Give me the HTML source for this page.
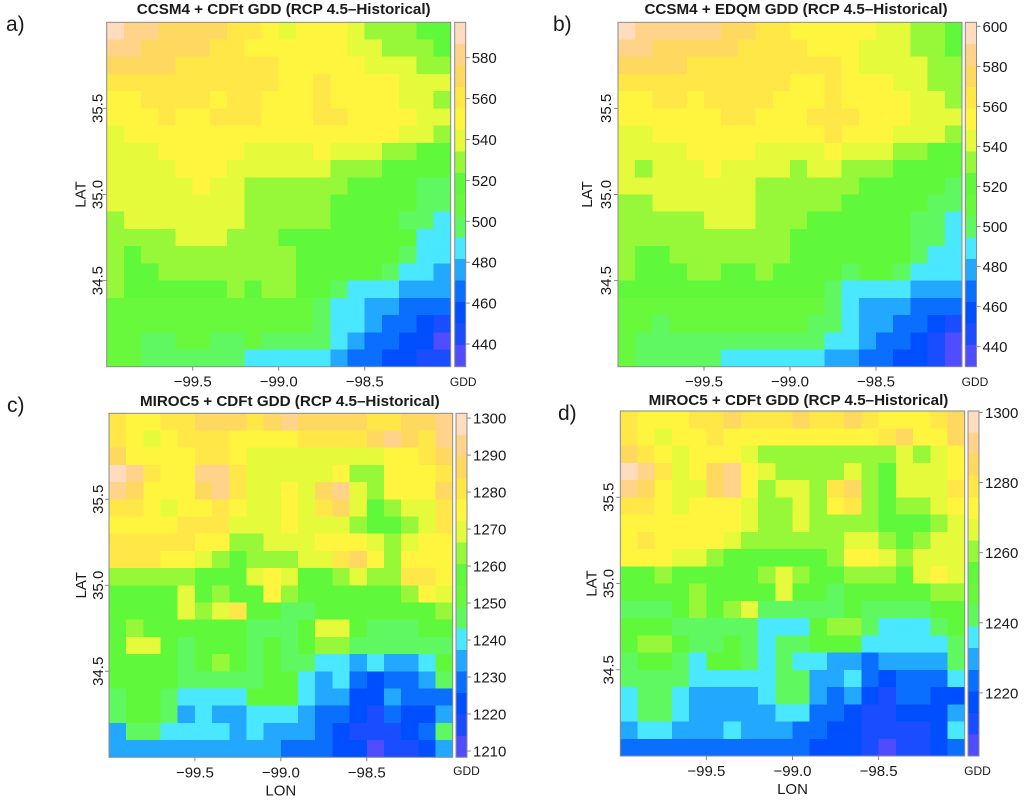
<!DOCTYPE html>
<html lang="en">
<head>
<meta charset="utf-8">
<title>GDD change maps</title>
<style>
html,body{margin:0;padding:0;background:#fff;width:1024px;height:802px;overflow:hidden}
svg{display:block;font-family:"Liberation Sans",Arial,sans-serif;fill:#111}
</style>
</head>
<body>
<svg id="chart" width="1024" height="802" viewBox="0 0 1024 802" xmlns="http://www.w3.org/2000/svg"></svg>
<script>
const lonTicks = [-99.5, -99.0, -98.5];
const latTicks = [34.5, 35.0, 35.5];
const palette = ['#4f4dff','#1a4dff','#004fff','#0a6eff','#22a8ff','#4ae8ff','#60f860','#68f83c','#60f83a','#96f838','#e4fa3a','#fff53e','#ffe748','#ffd860','#ffd48a','#ffdcbe'];

const titleA = 'CCSM4 + CDFt GDD (RCP 4.5\u2013Historical)';
const titleB = 'CCSM4 + EDQM GDD (RCP 4.5\u2013Historical)';
const titleC = 'MIROC5 + CDFt GDD (RCP 4.5\u2013Historical)';
const titleD = 'MIROC5 + CDFt GDD (RCP 4.5\u2013Historical)';

const ticksA = [440,460,480,500,520,540,560,580];
const ticksB = [440,460,480,500,520,540,560,580,600];
const ticksC = [1210,1220,1230,1240,1250,1260,1270,1280,1290,1300];
const ticksD = [1220,1240,1260,1280,1300];

const rangeA = [428.9, 597.3];
const rangeB = [430, 602];
const rangeC = [1208.3, 1301.3];
const rangeD = [1202, 1300.4];

const valuesA = [
[592,581,581,571,571,571,571,560,560,550,539,550,550,550,539,529,529,529,518,518],
[581,581,571,571,571,571,560,560,550,550,550,550,550,550,539,539,529,529,529,518],
[571,571,571,571,560,560,560,560,560,560,550,550,550,550,550,539,539,539,529,529],
[560,560,560,560,560,560,560,560,560,560,550,550,560,550,550,550,550,539,539,539],
[550,550,560,560,560,560,550,560,560,550,550,550,560,550,550,550,550,539,539,529],
[550,550,550,560,550,550,560,560,560,550,550,550,560,560,550,550,550,550,539,539],
[539,550,550,550,550,550,550,550,550,550,550,550,550,550,550,550,550,539,539,529],
[539,539,539,550,550,550,550,550,539,539,539,539,550,539,539,539,529,529,518,518],
[539,539,539,539,550,550,550,539,539,539,539,539,539,529,529,529,518,518,518,518],
[539,539,539,539,539,550,539,539,529,529,529,529,529,529,518,518,518,518,497,497],
[539,539,539,539,539,539,539,539,529,529,529,529,529,518,518,518,518,518,497,497],
[529,539,539,539,539,539,539,539,529,529,529,529,529,518,518,518,518,497,497,487],
[529,529,529,529,539,539,539,529,529,529,518,518,518,518,518,518,518,518,487,487],
[529,518,529,529,529,529,529,529,529,529,529,518,518,518,518,518,518,497,487,487],
[529,518,518,529,529,529,529,529,529,529,529,518,518,518,518,518,497,487,487,476],
[529,518,518,518,518,518,518,529,518,529,529,518,518,497,487,487,487,476,476,476],
[508,508,508,508,508,508,508,508,508,508,508,508,497,487,487,476,476,466,466,466],
[508,508,508,508,508,508,508,508,508,508,508,508,497,487,487,476,466,466,455,445],
[508,508,497,497,508,508,497,497,508,497,497,497,497,487,476,466,466,455,455,434],
[508,508,497,497,497,497,497,497,487,487,487,487,487,476,466,466,455,455,445,445]
];

const valuesB = [
[597,586,586,586,586,586,575,575,565,565,554,554,554,554,554,543,543,532,532,521],
[586,586,575,575,575,575,575,565,565,565,565,554,554,554,543,543,543,532,532,521],
[575,575,575,575,565,565,565,565,565,565,565,565,565,554,543,543,543,543,532,532],
[565,565,565,565,565,565,565,565,565,565,554,554,565,554,554,554,543,543,532,532],
[554,554,565,565,554,565,565,565,565,554,554,554,565,554,554,554,554,543,543,532],
[554,554,554,554,554,554,565,565,554,554,554,565,565,565,554,554,554,543,543,543],
[543,543,554,554,554,554,554,554,554,554,554,554,565,554,554,554,543,543,543,532],
[543,543,543,543,554,554,554,554,543,543,543,543,554,543,543,543,532,532,521,521],
[543,532,543,543,543,554,543,543,543,543,532,543,543,532,532,532,521,521,521,521],
[543,543,543,543,543,543,543,543,532,532,532,532,532,532,521,521,521,521,521,500],
[532,532,543,543,543,543,543,543,532,532,532,532,532,521,521,521,521,521,500,500],
[532,532,532,532,532,543,543,543,532,532,532,521,521,521,521,521,521,500,500,489],
[532,532,532,532,532,532,532,532,532,532,521,521,521,521,521,521,521,500,500,489],
[532,521,521,532,532,532,532,532,532,532,521,521,521,521,521,521,521,500,489,489],
[532,521,521,521,532,532,521,521,532,521,521,521,521,500,521,521,500,489,489,489],
[521,521,521,521,521,521,521,521,521,521,521,521,500,489,489,489,489,478,478,478],
[511,511,511,511,511,511,511,511,511,511,511,511,500,489,478,478,478,468,468,468],
[511,511,500,511,511,511,511,511,511,511,511,500,500,489,478,478,468,468,457,446],
[511,500,500,500,500,500,500,500,500,500,500,500,489,489,478,468,468,457,446,435],
[511,500,500,500,500,500,489,489,489,489,489,489,478,478,468,468,457,457,446,435]
];

const valuesC = [
[1281,1275,1275,1281,1281,1287,1287,1287,1281,1287,1292,1287,1287,1287,1287,1281,1281,1287,1287,1292],
[1281,1275,1269,1275,1281,1281,1281,1275,1275,1275,1275,1281,1281,1281,1281,1287,1292,1287,1281,1292],
[1287,1275,1275,1275,1275,1281,1281,1275,1269,1269,1269,1269,1269,1269,1269,1269,1275,1275,1281,1287],
[1298,1292,1281,1275,1275,1292,1292,1281,1269,1269,1269,1269,1269,1275,1263,1263,1275,1275,1275,1281],
[1292,1287,1275,1275,1275,1287,1292,1281,1269,1269,1275,1269,1287,1292,1269,1263,1275,1275,1275,1287],
[1281,1281,1275,1269,1275,1275,1281,1275,1269,1269,1275,1269,1281,1287,1269,1258,1263,1269,1269,1281],
[1275,1275,1275,1275,1281,1281,1281,1269,1269,1269,1275,1269,1269,1269,1263,1258,1258,1263,1269,1281],
[1281,1281,1281,1281,1281,1275,1275,1263,1263,1269,1269,1269,1275,1275,1275,1269,1263,1269,1275,1275],
[1281,1281,1281,1275,1275,1269,1263,1258,1263,1263,1263,1269,1269,1281,1287,1275,1263,1275,1275,1275],
[1263,1263,1263,1263,1263,1258,1258,1258,1269,1275,1269,1258,1258,1263,1269,1263,1263,1281,1281,1275],
[1258,1258,1258,1258,1269,1258,1263,1258,1258,1275,1263,1258,1258,1258,1258,1258,1258,1263,1275,1269],
[1258,1258,1258,1258,1269,1263,1269,1281,1258,1258,1246,1246,1258,1258,1258,1258,1258,1258,1258,1263],
[1258,1263,1258,1258,1258,1258,1258,1258,1246,1246,1246,1258,1269,1269,1258,1246,1246,1246,1258,1258],
[1258,1269,1269,1258,1246,1258,1258,1258,1246,1258,1246,1258,1263,1263,1246,1246,1246,1246,1246,1246],
[1258,1258,1258,1258,1246,1258,1263,1258,1246,1258,1246,1246,1240,1240,1234,1240,1234,1234,1240,1258],
[1258,1258,1258,1258,1246,1246,1246,1246,1246,1258,1258,1240,1234,1240,1229,1223,1229,1229,1234,1246],
[1246,1258,1258,1246,1240,1240,1240,1240,1258,1258,1258,1240,1234,1234,1223,1223,1234,1229,1229,1229],
[1246,1258,1258,1246,1234,1240,1234,1234,1240,1240,1240,1234,1229,1229,1223,1217,1229,1223,1223,1234],
[1234,1246,1246,1240,1240,1240,1240,1234,1240,1234,1234,1234,1229,1223,1217,1217,1217,1223,1229,1246],
[1234,1234,1234,1234,1234,1234,1234,1234,1234,1234,1229,1229,1229,1223,1223,1211,1217,1217,1223,1234]
];

const valuesD = [
[1279,1273,1273,1273,1279,1279,1285,1279,1279,1279,1285,1279,1279,1285,1279,1273,1273,1273,1279,1285],
[1279,1273,1267,1273,1273,1279,1273,1273,1273,1273,1273,1273,1273,1273,1273,1279,1285,1273,1273,1285],
[1285,1279,1273,1267,1273,1273,1273,1267,1260,1260,1260,1260,1260,1260,1260,1260,1267,1260,1267,1273],
[1297,1291,1279,1267,1273,1285,1291,1273,1267,1260,1260,1260,1260,1267,1260,1254,1267,1267,1267,1273],
[1291,1285,1273,1267,1267,1285,1291,1273,1260,1267,1267,1260,1279,1285,1260,1254,1267,1267,1267,1279],
[1279,1279,1273,1267,1273,1273,1273,1267,1260,1260,1267,1260,1273,1279,1260,1254,1260,1260,1267,1273],
[1273,1273,1273,1273,1273,1273,1273,1267,1260,1260,1267,1260,1260,1260,1260,1254,1254,1254,1260,1267],
[1273,1279,1273,1273,1273,1273,1267,1260,1260,1260,1260,1260,1260,1267,1267,1260,1254,1260,1267,1267],
[1273,1273,1273,1267,1267,1260,1254,1254,1254,1254,1254,1254,1260,1273,1273,1267,1260,1267,1267,1267],
[1254,1254,1260,1254,1254,1254,1254,1254,1260,1267,1260,1254,1254,1260,1260,1260,1254,1267,1273,1267],
[1254,1254,1254,1254,1260,1254,1254,1254,1254,1267,1254,1254,1242,1254,1254,1254,1254,1254,1260,1260],
[1242,1242,1242,1254,1260,1254,1260,1267,1242,1242,1242,1242,1242,1254,1242,1242,1242,1242,1254,1254],
[1254,1254,1254,1242,1242,1242,1242,1242,1236,1236,1236,1254,1260,1260,1242,1236,1236,1236,1242,1254],
[1254,1260,1260,1254,1242,1242,1254,1242,1236,1242,1242,1254,1254,1254,1236,1236,1236,1236,1236,1242],
[1242,1254,1254,1242,1236,1254,1254,1242,1236,1242,1236,1236,1230,1230,1224,1230,1230,1230,1230,1242],
[1242,1242,1242,1242,1236,1236,1236,1236,1236,1242,1242,1230,1230,1236,1224,1217,1224,1224,1224,1236],
[1236,1242,1242,1236,1230,1230,1230,1230,1236,1242,1242,1230,1224,1230,1217,1211,1224,1224,1217,1217],
[1236,1242,1242,1236,1230,1230,1230,1230,1230,1236,1236,1224,1224,1217,1211,1211,1217,1217,1217,1230],
[1230,1236,1236,1230,1230,1230,1236,1230,1230,1230,1224,1224,1217,1217,1211,1211,1211,1211,1217,1236],
[1224,1224,1224,1224,1224,1224,1224,1224,1224,1224,1224,1217,1217,1217,1211,1205,1211,1211,1217,1224]
];

const NS = 'http://www.w3.org/2000/svg';
const svg = document.getElementById('chart');
const LON_MIN = -100, LON_MAX = -98, LAT_MIN = 34, LAT_MAX = 36, FRAME = '#8a8a8a', INK = '#1a1a1a';

function node(tag, attrs, parent) {
  const el = document.createElementNS(NS, tag);
  for (const k in attrs) el.setAttribute(k, attrs[k]);
  parent.appendChild(el);
  return el;
}
function label(str, x, y, size, anchor, parent, weight, rotate) {
  const attrs = {x: x, y: y, 'font-size': size, 'text-anchor': anchor, fill: INK};
  if (weight) attrs['font-weight'] = weight;
  if (rotate) attrs.transform = 'rotate(-90 ' + x + ' ' + y + ')';
  const el = node('text', attrs, parent);
  el.textContent = str;
  return el;
}
function fmt(v) { return (v < 0 ? '\u2212' : '') + Math.abs(v).toFixed(1); }

function drawPanel(o) {
  const g = node('g', {}, svg);
  
  
  const xScale = lon => o.x0 + (lon - LON_MIN) / (LON_MAX - LON_MIN) * (o.x1 - o.x0);
  const yScale = lat => o.y1 - (lat - LAT_MIN) / (LAT_MAX - LAT_MIN) * (o.y1 - o.y0);
  const nRows = o.values.length, nCols = o.values[0].length;
  const dLon = (LON_MAX - LON_MIN) / nCols, dLat = (LAT_MAX - LAT_MIN) / nRows;
  const band = (o.range[1] - o.range[0]) / palette.length;
  const colorOf = v => palette[Math.max(0, Math.min(palette.length - 1, Math.floor((v - o.range[0]) / band)))];

  const cells = node('g', {'shape-rendering': 'crispEdges'}, g);
  
  
  o.values.forEach((row, r) => row.forEach((v, c) => {
    const xa = xScale(LON_MIN + c * dLon), xb = xScale(LON_MIN + (c + 1) * dLon);
    const ya = yScale(LAT_MAX - r * dLat), yb = yScale(LAT_MAX - (r + 1) * dLat);
    const cell = node('rect', {x: xa, y: ya, width: xb - xa, height: yb - ya, fill: colorOf(v)}, cells);
    
    
  }));
  const frame = node('rect', {x: o.x0, y: o.y0, width: o.x1 - o.x0, height: o.y1 - o.y0, fill: 'none', stroke: FRAME, 'stroke-width': 1}, g);
  
  

  lonTicks.forEach(t => {
    const x = xScale(t);
    const tick = node('line', {x1: x, x2: x, y1: o.y1, y2: o.y1 + 4, stroke: FRAME}, g);
    
    
    const text = label(fmt(t), x, o.y1 + 20, 15, 'middle', g);
    
    
  });
  latTicks.forEach(t => {
    const y = yScale(t);
    const tick = node('line', {x1: o.x0 - 4, x2: o.x0, y1: y, y2: y, stroke: FRAME}, g);
    
    
    const text = label(t.toFixed(1), o.x0 - o.tickDx, y, 15, 'middle', g, null, true);
    
    
  });

  const title = label(o.title, (o.x0 + o.x1) / 2 + o.titleDx, o.titleY, 15.2, 'middle', g, 'bold');
  
  
  const letter = label(o.id + ')', o.letterX, o.letterY, 21, 'start', g);
  
  
  const latTitle = label('LAT', o.x0 - o.latDx, (o.y0 + o.y1) / 2, 15, 'middle', g, null, true);
  
  
  if (o.showLon) {
    const lonTitle = label('LON', (o.x0 + o.x1) / 2, o.y1 + 38, 15, 'middle', g);
    
    
  }

  const bar = node('g', {}, g);
  
  
  const valueY = v => o.y1 - (v - o.range[0]) / (o.range[1] - o.range[0]) * (o.y1 - o.y0);
  const swatches = node('g', {'shape-rendering': 'crispEdges'}, bar);
  palette.forEach((col, i) => {
    const ya = valueY(o.range[0] + (i + 1) * band), yb = valueY(o.range[0] + i * band);
    const sw = node('rect', {x: o.cb0, y: ya, width: o.cb1 - o.cb0, height: yb - ya, fill: col}, swatches);
    
    
  });
  node('rect', {x: o.cb0, y: o.y0, width: o.cb1 - o.cb0, height: o.y1 - o.y0, fill: 'none', stroke: FRAME}, bar);
  o.ticks.forEach(t => {
    const y = valueY(t);
    const tick = node('line', {x1: o.cb1, x2: o.cb1 + 4, y1: y, y2: y, stroke: FRAME}, bar);
    
    
    const text = label(String(t), o.cb1 + 6, y + 5.5, 15, 'start', bar);
    
    
  });
  const unit = label('GDD', (o.cb0 + o.cb1) / 2 + o.unitDx, o.unitY, 12, 'middle', bar);
  
  
}

drawPanel({id:'a', title:titleA, values:valuesA, range:rangeA, ticks:ticksA, x0:106.7, x1:450.7, y0:22.3, y1:366.7, cb0:454.7, cb1:465.7, titleY:14, titleDx:5, letterX:6, letterY:31, unitDx:3, unitY:386, showLon:false, tickDx:4, latDx:21});
drawPanel({id:'b', title:titleB, values:valuesB, range:rangeB, ticks:ticksB, x0:618, x1:962, y0:22.3, y1:366.7, cb0:965.3, cb1:976.5, titleY:14, titleDx:6, letterX:553, letterY:31, unitDx:4, unitY:386, showLon:false, tickDx:7, latDx:26});
drawPanel({id:'c', title:titleC, values:valuesC, range:rangeC, ticks:ticksC, x0:109, x1:452.7, y0:413.3, y1:757.3, cb0:456, cb1:467, titleY:406, titleDx:9, letterX:7, letterY:412, unitDx:5, unitY:775, showLon:true, tickDx:6, latDx:23});
drawPanel({id:'d', title:titleD, values:valuesD, range:rangeD, ticks:ticksD, x0:620.3, x1:964.7, y0:411, y1:756, cb0:968, cb1:979, titleY:405, titleDx:6, letterX:558, letterY:420, unitDx:4, unitY:775, showLon:true, tickDx:7, latDx:24});
</script>
</body>
</html>
